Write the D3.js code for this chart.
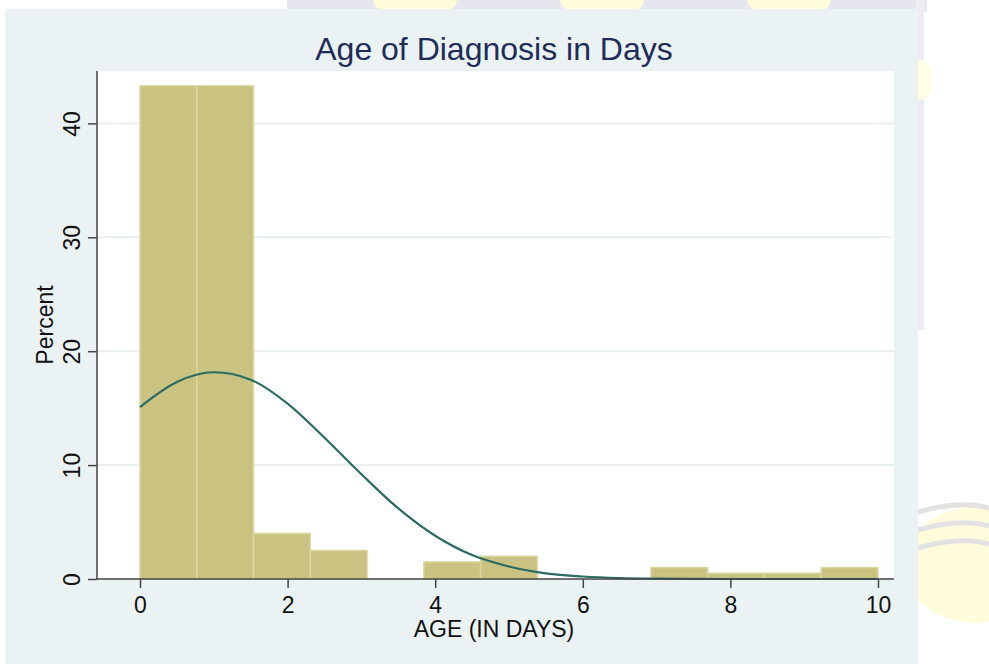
<!DOCTYPE html>
<html>
<head>
    <title>Age of Diagnosis in Days</title>
    <meta charset="utf-8">
    <script src="https://d3js.org/d3.v7.min.js"></script>
    <style>
        body { margin: 0; background: #ffffff; }
        svg { display: block; font-family: "Liberation Sans", Arial, Helvetica, sans-serif; }
        .axis text { font-size: 23px; fill: #111; }
        .axis line { stroke: #444; stroke-width: 1.5px; }
        .axis path { display: none; }
    </style>
</head>
<body>
<svg id="myGraph" width="989" height="664"></svg>
<script>
// histogram bins (lower edge of each bin, in days) and their percent
var binLow = [0, 0.769, 1.538, 2.308, 3.077, 3.846, 4.615, 5.385, 6.154, 6.923, 7.692, 8.462, 9.231];
var binWidth = 0.769;
var binPercent = [43.3, 43.3, 4.0, 2.5, 0, 1.5, 2.0, 0, 0, 1.0, 0.5, 0.5, 1.0];

// overlaid normal curve, every half day
var curveX = [0, 0.5, 1, 1.5, 2, 2.5, 3, 3.5, 4, 4.5, 5, 5.5, 6, 6.5, 7, 7.5, 8, 8.5, 9, 9.5, 10];
var curveY = [15.1, 17.3, 18.15, 17.5, 15.4, 12.4, 9.2, 6.2, 3.8, 2.1, 1.1, 0.5, 0.22, 0.08, 0.03, 0.01, 0, 0, 0, 0, 0];

// tick labels
var xTicks = [0, 2, 4, 6, 8, 10];
var yTicks = [0, 10, 20, 30, 40];

// bins with something in them
var bins = binPercent.map(function (p, i) {
    return { low: binLow[i], pct: p };
}).filter(function (d) { return d.pct > 0; });

var svg = d3.select("#myGraph");

// --- faint background picture behind the graph ---
var bg = svg.append("g");
bg.append("rect").attr("x", 287).attr("y", 0).attr("width", 640).attr("height", 12).attr("fill", "#e6e6ef");
[415, 602, 789].forEach(function (cx) {
    bg.append("ellipse").attr("cx", cx).attr("cy", 0).attr("rx", 42).attr("ry", 18).attr("fill", "#fffcda");
});
bg.append("rect").attr("x", 916).attr("y", 0).attr("width", 8).attr("height", 330).attr("fill", "#ececf2");
bg.append("ellipse").attr("cx", 922).attr("cy", 80).attr("rx", 10).attr("ry", 20).attr("fill", "#fffde6");
bg.append("ellipse").attr("cx", 975).attr("cy", 565).attr("rx", 70).attr("ry", 58).attr("fill", "#fffcdc");
[512, 530, 548].forEach(function (yy) {
    bg.append("path")
        .attr("d", "M918," + yy + " Q960," + (yy - 12) + " 989," + (yy - 4))
        .attr("fill", "none").attr("stroke", "#e2e2e2").attr("stroke-width", 5);
});

// --- graph region ---
svg.append("rect")
    .attr("x", 5).attr("y", 9).attr("width", 913).attr("height", 655)
    .attr("fill", "#eaf2f3");

// plot region
svg.append("rect")
    .attr("x", 97).attr("y", 71).attr("width", 797).attr("height", 508)
    .attr("fill", "#ffffff");

var x = d3.scaleLinear().domain([0, 10]).range([140, 878]);
var y = d3.scaleLinear().domain([0, 40]).range([579, 123.4]);

// grid lines
svg.append("g")
    .selectAll("line")
    .data(yTicks.filter(function (d) { return d > 0; }))
    .enter()
    .append("line")
    .attr("x1", 97).attr("x2", 894)
    .attr("y1", function (d) { return y(d); })
    .attr("y2", function (d) { return y(d); })
    .attr("stroke", "#e8eff1")
    .attr("stroke-width", 2);

// bars
svg.append("g")
    .selectAll("rect")
    .data(bins)
    .enter()
    .append("rect")
    .attr("x", function (d) { return x(d.low); })
    .attr("y", function (d) { return y(d.pct); })
    .attr("width", function (d) { return x(d.low + binWidth) - x(d.low); })
    .attr("height", function (d) { return y(0) - y(d.pct); })
    .attr("fill", "#c9c280")
    .attr("stroke", "#dcd7a0")
    .attr("stroke-width", 1.5);

// normal density line
var line = d3.line()
    .x(function (d, i) { return x(curveX[i]); })
    .y(function (d) { return y(d); })
    .curve(d3.curveMonotoneX);

svg.append("path")
    .datum(curveY)
    .attr("d", line)
    .attr("fill", "none")
    .attr("stroke", "#2b6b63")
    .attr("stroke-width", 2.2);

// axis lines
svg.append("line").attr("x1", 97).attr("x2", 97).attr("y1", 71).attr("y2", 579)
    .attr("stroke", "#444").attr("stroke-width", 1.5);
svg.append("line").attr("x1", 97).attr("x2", 894).attr("y1", 579).attr("y2", 579)
    .attr("stroke", "#444").attr("stroke-width", 1.5);

// x axis
var xAxis = svg.append("g")
    .attr("class", "axis")
    .attr("transform", "translate(0,579)")
    .call(d3.axisBottom(x).tickValues(xTicks).tickSize(9).tickSizeOuter(0));
xAxis.selectAll("text").attr("y", 34).attr("dy", 0);

// y axis, labels turned sideways
var yAxis = svg.append("g")
    .attr("class", "axis")
    .attr("transform", "translate(97,0)")
    .call(d3.axisLeft(y).tickValues(yTicks).tickSize(9).tickSizeOuter(0));
yAxis.selectAll("text")
    .attr("x", 0).attr("y", -17).attr("dy", 0)
    .attr("text-anchor", "middle")
    .attr("transform", "rotate(-90)");

// titles
svg.append("text")
    .attr("x", 494).attr("y", 60)
    .attr("text-anchor", "middle")
    .attr("font-size", 32)
    .attr("fill", "#1f2c5a")
    .text("Age of Diagnosis in Days");

svg.append("text")
    .attr("x", 494).attr("y", 637)
    .attr("text-anchor", "middle")
    .attr("font-size", 23)
    .attr("fill", "#111")
    .text("AGE (IN DAYS)");

svg.append("text")
    .attr("transform", "translate(53,325) rotate(-90)")
    .attr("text-anchor", "middle")
    .attr("font-size", 23)
    .attr("fill", "#111")
    .text("Percent");
</script>
</body>
</html>
